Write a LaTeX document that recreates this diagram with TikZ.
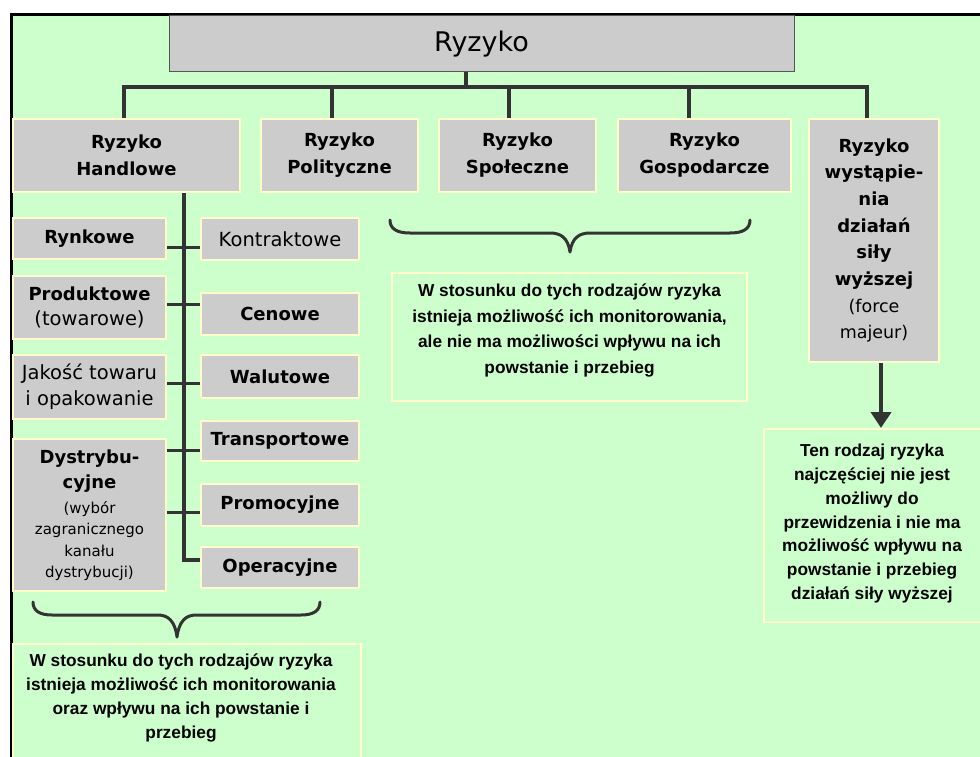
\documentclass[tikz,border=0pt]{standalone}
\usepackage{fontspec}
\setmainfont{DejaVu Sans}
\newfontfamily\libsans{Liberation Sans}
\usetikzlibrary{arrows.meta}
\definecolor{bgreen}{HTML}{CCFFCC}
\definecolor{gfill}{HTML}{CCCCCC}
\definecolor{ybord}{HTML}{FFFFCC}
\definecolor{lncol}{HTML}{333333}
\definecolor{topbord}{HTML}{555555}
\newcommand\rgline[1]{{\mdseries\fontsize{19.5}{25}\selectfont #1}}
\newcommand\smline[1]{{\mdseries\fontsize{15}{21}\selectfont #1}}
\newcommand\fmline[1]{{\mdseries\fontsize{17.5}{26}\selectfont #1}}
\tikzset{
  topbox/.style={draw=topbord, line width=1pt, fill=gfill, inner sep=0pt,
    font=\fontsize{27}{30}\selectfont},
  gb/.style={draw=ybord, line width=2pt, fill=gfill, inner sep=0pt, align=center,
    font=\fontsize{18}{27}\selectfont\bfseries},
  tb/.style={draw=ybord, line width=2pt, fill=bgreen, inner sep=0pt},
  tt/.style={inner sep=0pt, align=center, font=\libsans\bfseries\fontsize{17.3}{24}\selectfont},
  conn/.style={draw=lncol, line width=3.5pt, line join=miter},
  tick/.style={draw=lncol, line width=3pt},
  bracestyle/.style={draw=lncol, line width=3pt, line cap=round, line join=round},
  arr/.style={draw=lncol, fill=lncol, line width=4pt, -{Triangle[width=20pt,length=16pt]}}
}
\begin{document}
\begin{tikzpicture}[x=1pt,y=-1pt]
\useasboundingbox (0,0) rectangle (980,757);
\clip (0,0) rectangle (980,757);
% frame and background
\fill[white] (0,0) rectangle (980,757);
\fill[bgreen] (12.5,16) rectangle (980,757);
\fill[black] (10,13) rectangle (980,16);
\fill[black] (10,13) rectangle (12.5,757);

% top box
\node[topbox, minimum width=625pt, minimum height=56pt] (top) at (481.5,44) {Ryzyko};

% level 2
\node[gb, minimum width=227pt, minimum height=73pt] (hand) at (126.5,155.5) {Ryzyko\\Handlowe};
\node[gb, minimum width=157pt, minimum height=73pt] (pol) at (339.5,155.5) {Ryzyko\\Polityczne};
\node[gb, minimum width=157pt, minimum height=73pt] (spol) at (517.5,155.5) {Ryzyko\\Społeczne};
\node[gb, minimum width=173pt, minimum height=73pt] (gosp) at (704.5,155.5) {Ryzyko\\Gospodarcze};
\node[gb, minimum width=130pt, minimum height=243pt, font=\fontsize{18}{26.7}\selectfont\bfseries] (wyst) at (874,240.5)
  {Ryzyko\\wystąpie-\\nia\\działań\\siły\\wyższej\\\fmline{(force}\\\fmline{majeur)}};

% left column
\node[gb, minimum width=153pt, minimum height=41pt] (rynk) at (89.5,238.5) {Rynkowe};
\node[gb, minimum width=153pt, minimum height=63pt, font=\fontsize{18}{25}\selectfont\bfseries] (prod) at (89.5,307.5) {Produktowe\\\rgline{(towarowe)}};
\node[gb, minimum width=153pt, minimum height=64pt, font=\fontsize{19.5}{26}\selectfont] (jak) at (89.5,387) {Jakość towaru\\i opakowanie};
\node[gb, minimum width=153pt, minimum height=152pt, font=\fontsize{18}{25}\selectfont\bfseries] (dyst) at (89.5,515)
  {Dystrybu-\\cyjne\\\smline{(wybór}\\[-3.5pt]\smline{zagranicznego}\\[-3.5pt]\smline{kanału}\\[-3.5pt]\smline{dystrybucji)}};

% right column
\node[gb, minimum width=158pt, minimum height=42pt, font=\fontsize{19.5}{25}\selectfont] (kontr) at (280,239) {Kontraktowe};
\node[gb, minimum width=158pt, minimum height=42pt] (cen) at (280,314) {Cenowe};
\node[gb, minimum width=158pt, minimum height=43pt] (wal) at (280,376.5) {Walutowe};
\node[gb, minimum width=158pt, minimum height=40pt] (trans) at (280,441) {Transportowe};
\node[gb, minimum width=158pt, minimum height=42pt] (prom) at (280,505) {Promocyjne};
\node[gb, minimum width=158pt, minimum height=41pt] (oper) at (280,567.5) {Operacyjne};

% text boxes
\node[tb, minimum width=348pt, minimum height=135pt, anchor=north] (b1) at (187,643) {};
\node[tt, anchor=north] (b1t) at ([xshift=-6pt,yshift=-11pt]b1.north)
  {W stosunku do tych rodzajów ryzyka\\istnieja możliwość ich monitorowania\\oraz wpływu na ich powstanie i\\przebieg};
\node[tb, minimum width=355pt, minimum height=128pt] (b2) at (569.5,337) {};
\node[tt, anchor=north, font=\libsans\bfseries\fontsize{17.3}{25.5}\selectfont] (b2t) at ([yshift=-12pt]b2.north)
  {W stosunku do tych rodzajów ryzyka\\istnieja możliwość ich monitorowania,\\ale nie ma możliwości wpływu na ich\\powstanie i przebieg};
\node[tb, minimum width=218pt, minimum height=193pt] (b3) at (873,525.5) {};
\node[tt, anchor=north, font=\libsans\bfseries\fontsize{17.3}{23.8}\selectfont] (b3t) at ([xshift=-1pt,yshift=-16pt]b3.north)
  {Ten rodzaj ryzyka\\najczęściej nie jest\\możliwy do\\przewidzenia i nie ma\\możliwość wpływu na\\powstanie i przebieg\\działań siły wyższej};

% connectors: tree
\coordinate (bus) at (0,87);
\coordinate (dt) at ([xshift=-15.5pt]top.south);
\coordinate (dh) at ([xshift=-2.5pt]hand.north);
\coordinate (dp) at ([xshift=-7.5pt]pol.north);
\coordinate (ds) at ([xshift=-8.5pt]spol.north);
\coordinate (dg) at ([xshift=-15.5pt]gosp.north);
\coordinate (dw) at ([xshift=-7pt]wyst.north);
\draw[conn] (dt) -- (dt |- bus);
\draw[conn] (dh) |- (dw |- bus) -- (dw);
\draw[conn] (dp) -- (dp |- bus);
\draw[conn] (ds) -- (ds |- bus);
\draw[conn] (dg) -- (dg |- bus);

% trunk of Handlowe
\draw[conn] ([xshift=57.5pt]hand.south) |- ([yshift=7.5pt]oper.west);
\coordinate (t1) at (184,247);
\coordinate (t2) at (184,304);
\coordinate (t3) at (184,383);
\coordinate (t4) at (184,450);
\coordinate (t5) at (184,512);
\draw[tick] (t1 -| rynk.east) -- (t1 -| kontr.west);
\draw[tick] (t2 -| prod.east) -- (t2 -| cen.west);
\draw[tick] (t3 -| jak.east) -- (t3 -| wal.west);
\draw[tick] (t4 -| dyst.east) -- (t4 -| trans.west);
\draw[tick] (t5 -| dyst.east) -- (t5 -| prom.west);

% braces
\draw[bracestyle] (33,602) .. controls (33,611) and (40,615) .. (52,615) -- (158,615)
  .. controls (168,615) and (175,621) .. (177,637)
  .. controls (179,621) and (186,615) .. (196,615) -- (301,615)
  .. controls (313,615) and (320,611) .. (320,602);
\draw[bracestyle] (390,220) .. controls (390,229) and (397,233) .. (410,233) -- (550,233)
  .. controls (561,233) and (568,238) .. (570,252)
  .. controls (572,238) and (579,233) .. (590,233) -- (730,233)
  .. controls (743,233) and (750,229) .. (750,220);

% arrow
\draw[arr] ([xshift=7pt]wyst.south) -- ([xshift=8pt]b3.north);
\end{tikzpicture}
\end{document}
